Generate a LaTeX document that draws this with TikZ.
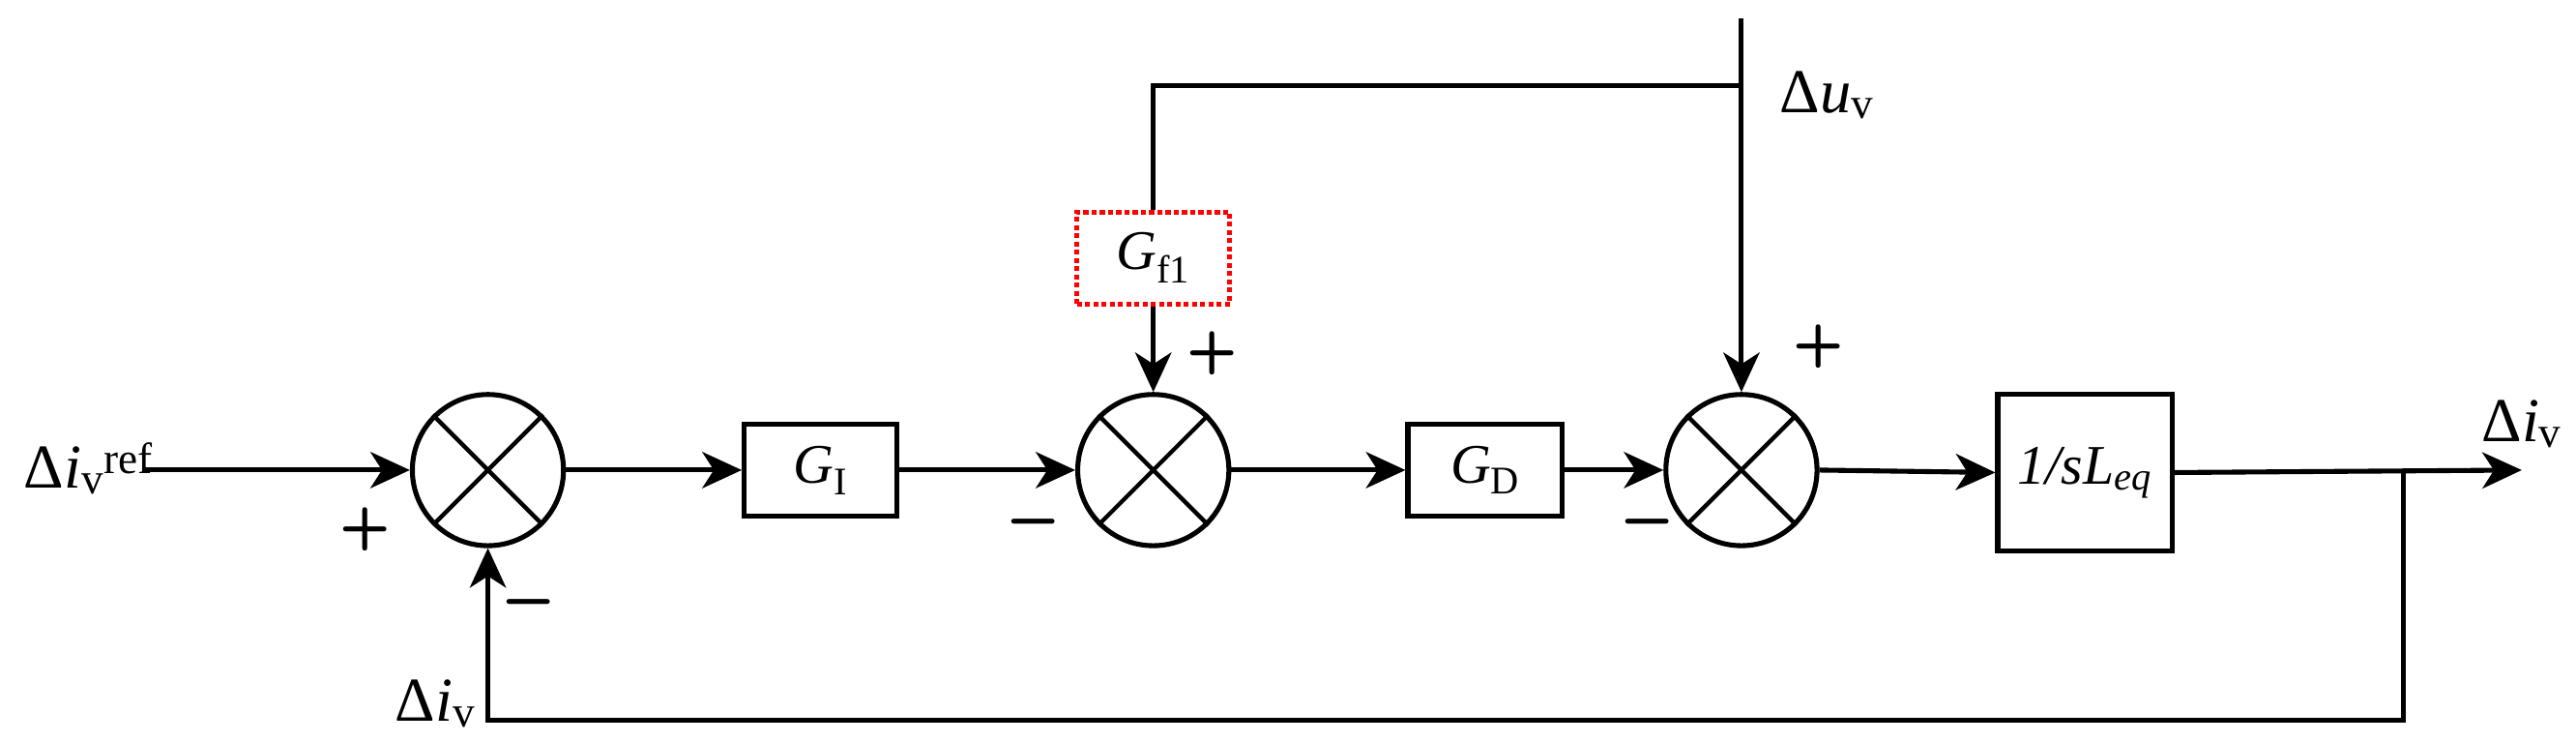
\documentclass[tikz,border=0pt]{standalone}
\usepackage{fontspec}
\setmainfont{Liberation Serif}
\usetikzlibrary{arrows.meta}
\begin{document}
\begin{tikzpicture}[x=1pt,y=-1pt,line width=3pt,
  sum/.style={draw,circle,minimum size=92pt,inner sep=0pt},
  blk/.style={draw,rectangle,inner sep=0pt,font=\fontsize{34}{36}\selectfont},
  lbl/.style={font=\fontsize{38}{40}\selectfont,inner sep=0pt},
  sgn/.style={font=\sffamily\bfseries\fontsize{36}{36}\selectfont,inner sep=0pt},
  arr/.style={-{Stealth[length=24pt,width=22pt,inset=7pt]}}]
\useasboundingbox (0,0) rectangle (1568,451);
\node[sum] (s1) at (297,286) {};
\node[sum] (s2) at (702,286) {};
\node[sum] (s3) at (1060,286) {};
\foreach \s in {s1,s2,s3}{
  \draw[line width=2.6pt] (\s.north west)--(\s.south east) (\s.north east)--(\s.south west);}
\node[blk,minimum width=93pt,minimum height=56pt] (gi) at (499.5,286) {\textit{G}\textsubscript{I}};
\node[blk,minimum width=94pt,minimum height=56pt] (gd) at (904,286) {\textit{G}\textsubscript{D}};
\node[blk,minimum width=106pt,minimum height=95pt] (pl) at (1269,287.5) {\textit{1/s}\textit{L\textsubscript{eq}}};
\node[blk,draw=red,dotted,line width=3pt,minimum width=93pt,minimum height=56pt] (gf) at (702,157) {\textit{G}\textsubscript{f1}};
\coordinate (in) at (88,286);
\coordinate (out) at (1535,286);
\coordinate (br) at (1463,286);
\coordinate (bot) at (1463,438);
\coordinate (top) at (1060,11);
\coordinate (tj) at (1060,52);
\draw[arr] (in)--(s1.west);
\draw[arr] (s1.east)--(gi.west);
\draw[arr] (gi.east)--(s2.west);
\draw[arr] (s2.east)--(gd.west);
\draw[arr] (gd.east)--(s3.west);
\draw[arr] (s3.east)--(pl.west);
\draw[arr] (pl.east)--(out);
\draw[arr] (br)--(bot)-|(s1.south);
\draw[arr] (top)--(s3.north);
\draw (tj)-|(gf.north);
\draw[arr] (gf.south)--(s2.north);
\node[lbl,anchor=east] at (95,285) {Δ\textit{i}\textsubscript{v}\textsuperscript{ref}};
\node[lbl] at (265,428) {Δ\textit{i}\textsubscript{v}};
\node[lbl,anchor=west] at (1082,58) {Δ\textit{u}\textsubscript{v}};
\node[lbl] at (1535,258) {Δ\textit{i}\textsubscript{v}};
\node[sgn] at (222,322) {+};
\node[sgn] at (322,370) {\textbf{−}};
\node[sgn] at (629,321) {\textbf{−}};
\node[sgn] at (738,215) {+};
\node[sgn] at (1003,321) {\textbf{−}};
\node[sgn] at (1107,211) {+};
\end{tikzpicture}
\end{document}
